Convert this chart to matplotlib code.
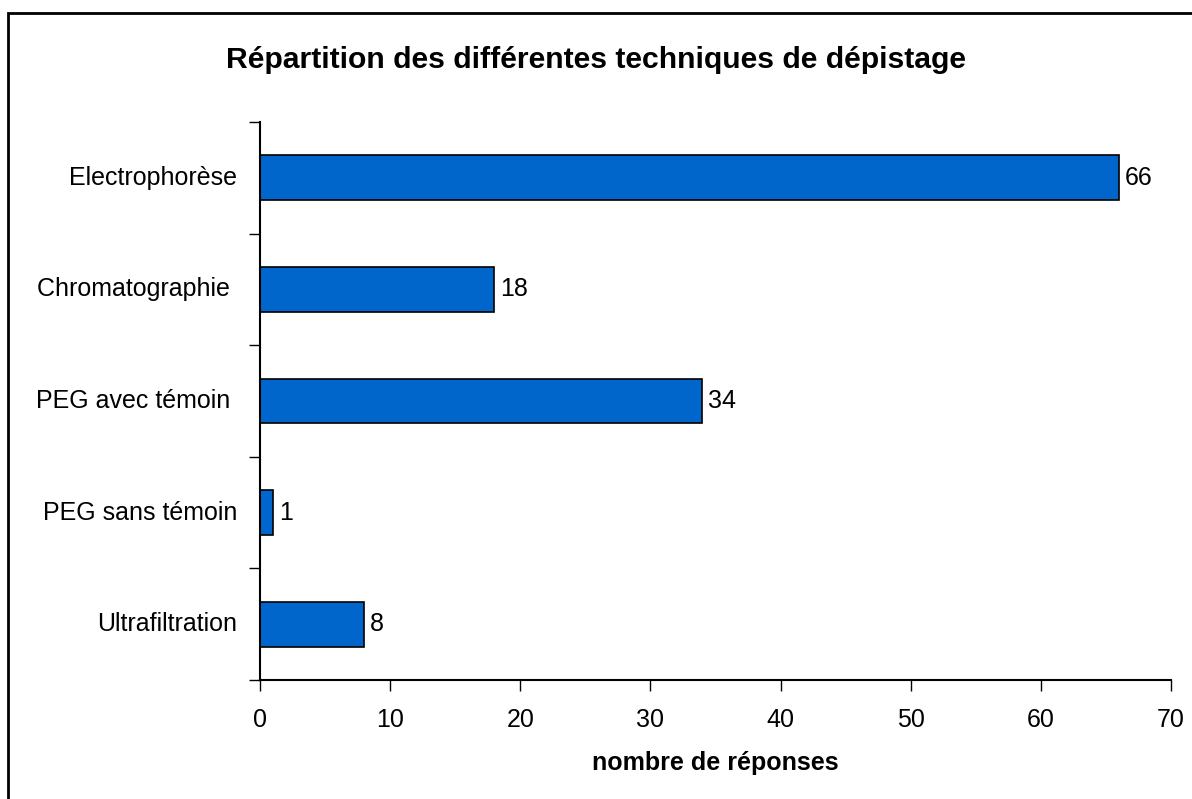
import matplotlib
matplotlib.use("Agg")
import matplotlib.pyplot as plt
from matplotlib.patches import Rectangle

plt.rcParams['font.family'] = ['Liberation Sans', 'DejaVu Sans']

# Data
techniques = ["Electrophorèse", "Chromatographie ", "PEG avec témoin ", "PEG sans témoin", "Ultrafiltration"]
reponses = [66, 18, 34, 1, 8]
x_ticks = [0, 10, 20, 30, 40, 50, 60, 70]

BAR_COLOR = '#0066CC'
FS = 18

fig = plt.figure(figsize=(11.92, 7.99), dpi=100)
ax = fig.add_axes([0.2181, 0.1489, 0.7643, 0.6984])

# Outer frame (extends past the right and bottom edges)
frame = Rectangle((8 / 1192, -0.05), 1.1, 1 - 13 / 799 + 0.05, transform=fig.transFigure,
                  fill=False, edgecolor='black', linewidth=2, clip_on=False)
fig.patches.append(frame)

ypos = list(range(len(techniques)))
ax.barh(ypos, reponses, height=0.4, color=BAR_COLOR, edgecolor='black', linewidth=1.2)
for y, v in zip(ypos, reponses):
    ax.text(v + 0.45, y, str(v), va='center', ha='left', fontsize=FS)

ax.set_xlim(0, 70)
ax.set_ylim(len(techniques) - 0.5, -0.5)
ax.set_xticks(x_ticks)
ax.set_xticklabels([str(t) for t in x_ticks], fontsize=FS)

# Category labels at bar centres, ticks at band boundaries
ax.set_yticks([i - 0.5 for i in range(len(techniques) + 1)])
ax.set_yticklabels([])
ax.tick_params(axis='y', length=8, width=1, direction='out')
ax.tick_params(axis='x', length=8, width=1, direction='out', pad=12)
for y, lab in zip(ypos, techniques):
    ax.text(-1.75, y, lab, ha='right', va='center', fontsize=FS)

for s in ['top', 'right']:
    ax.spines[s].set_visible(False)
ax.spines['left'].set_linewidth(1.5)
ax.spines['bottom'].set_linewidth(1.5)

ax.set_xlabel("nombre de réponses", fontsize=FS, fontweight='bold', labelpad=14)
fig.text(0.5, 1 - 60 / 799, "Répartition des différentes techniques de dépistage",
         ha='center', va='center', fontsize=21.7, fontweight='bold')

fig.savefig("out.png", dpi=100)
